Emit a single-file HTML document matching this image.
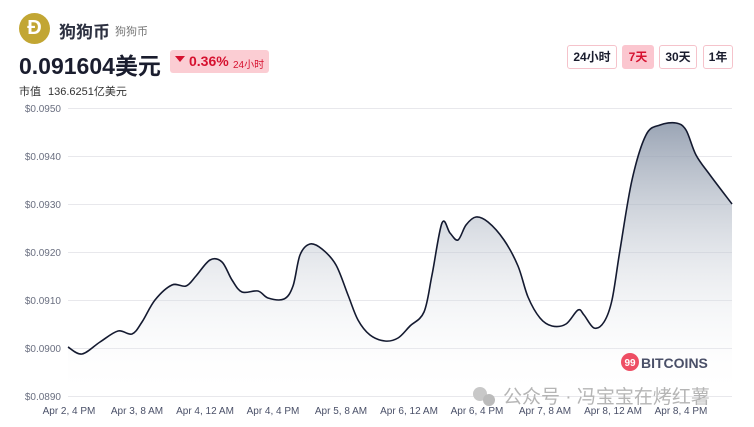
<!DOCTYPE html><html><head><meta charset="utf-8"><style>
body{margin:0;width:754px;height:427px;background:#fff;font-family:"Liberation Sans","Noto Sans CJK SC",sans-serif;color:#1a1d2e;position:relative;overflow:hidden}
.a{position:absolute;white-space:nowrap}
.btn{position:absolute;top:45px;height:22px;border:1px solid #f5c3cb;border-radius:3px;font-size:12px;font-weight:bold;line-height:22px;text-align:center;background:#fff}
</style></head><body>
<div class="a" style="left:19px;top:13px;width:31px;height:31px;border-radius:50%;background:#c2a633;color:#fff;font-weight:bold;font-size:20px;line-height:31px;text-align:center">Ð</div>
<div class="a" style="left:59px;top:18px;font-size:17px;font-weight:bold;color:#2c3040">狗狗币</div>
<div class="a" style="left:115px;top:23px;font-size:11px;color:#777">狗狗币</div>
<div class="a" style="left:19px;top:47px;font-size:23px;font-weight:bold;color:#1a1d2e">0.091604美元</div>
<div class="a" style="left:170px;top:50px;width:99px;height:23px;background:#fbcdd3;border-radius:3px"></div>
<div class="a" style="left:175px;top:56px;width:0;height:0;border-left:5px solid transparent;border-right:5px solid transparent;border-top:6px solid #d6112f"></div>
<div class="a" style="left:189px;top:53px;font-size:14px;font-weight:bold;color:#d6112f">0.36%</div>
<div class="a" style="left:233px;top:56px;font-size:10px;color:#d6112f">24小时</div>
<div class="a" style="left:19px;top:83px;font-size:11px;color:#333">市值</div>
<div class="a" style="left:48px;top:83px;font-size:11px;color:#333">136.6251亿美元</div>
<div class="btn" style="left:567px;width:48px">24小时</div>
<div class="btn" style="left:622px;width:30px;background:#fbc6cf;color:#d6112f;border-color:#fbc6cf">7天</div>
<div class="btn" style="left:659px;width:36px">30天</div>
<div class="btn" style="left:703px;width:28px">1年</div>
<svg class="a" style="left:0;top:0" width="754" height="427">
<defs><linearGradient id="g" x1="0" y1="0" x2="0" y2="1"><stop offset="0" stop-color="#8995a8" stop-opacity=".85"/><stop offset="1" stop-color="#fff" stop-opacity="0"/></linearGradient></defs>
<g stroke="#e8e8ec" stroke-width="1">
<line x1="68" x2="732" y1="108.5" y2="108.5"/><line x1="68" x2="732" y1="156.5" y2="156.5"/><line x1="68" x2="732" y1="204.5" y2="204.5"/><line x1="68" x2="732" y1="252.5" y2="252.5"/><line x1="68" x2="732" y1="300.5" y2="300.5"/><line x1="68" x2="732" y1="348.5" y2="348.5"/><line x1="68" x2="732" y1="396.5" y2="396.5"/></g>
<g font-size="10" fill="#6a6f80" text-anchor="end">
<text x="61" y="112">$0.0950</text><text x="61" y="160">$0.0940</text><text x="61" y="208">$0.0930</text><text x="61" y="256">$0.0920</text><text x="61" y="304">$0.0910</text><text x="61" y="352">$0.0900</text><text x="61" y="400">$0.0890</text></g>
<g font-size="10" fill="#4a5068" text-anchor="middle">
<text x="69" y="414">Apr 2, 4 PM</text><text x="137" y="414">Apr 3, 8 AM</text><text x="205" y="414">Apr 4, 12 AM</text><text x="273" y="414">Apr 4, 4 PM</text><text x="341" y="414">Apr 5, 8 AM</text><text x="409" y="414">Apr 6, 12 AM</text><text x="477" y="414">Apr 6, 4 PM</text><text x="545" y="414">Apr 7, 8 AM</text><text x="613" y="414">Apr 8, 12 AM</text><text x="681" y="414">Apr 8, 4 PM</text></g>
<path id="f" fill="url(#g)"/><path id="l" fill="none" stroke="#141a30" stroke-width="1.6"/>
<circle cx="630" cy="362" r="9" fill="#ee4e64"/><text x="630" y="366" font-size="10" font-weight="bold" fill="#fff" text-anchor="middle">99</text>
<text x="641" y="368" font-size="14" font-weight="bold" fill="#4a5068">BITCOINS</text>
<circle cx="480" cy="394" r="7" fill="#c8c8c8"/><circle cx="489" cy="400" r="6" fill="#bbb"/>
<text x="503" y="403" font-size="19" fill="#b5b5b5">公众号 · 冯宝宝在烤红薯</text>
</svg>
<script>
var p=[[68,347],[82,354],[100,342],[118,331],[132,334],[142,322],[155,300],[172,285],[186,286],[196,276],[210,260],[222,262],[232,280],[242,292],[258,291],[268,298],[284,299],[293,286],[300,255],[310,244],[322,249],[336,265],[348,295],[358,320],[370,335],[385,341],[398,338],[410,326],[424,312],[432,275],[442,223],[450,233],[458,240],[466,225],[476,217],[488,222],[504,240],[518,266],[528,297],[540,318],[552,326],[566,324],[578,310],[584,315],[594,328],[604,322],[612,300],[620,250],[632,180],[646,135],[660,125],[676,123],[686,130],[696,155],[710,175],[732,204]];
var d="M"+p[0];for(var i=0;i<p.length-1;i++){var a=p[i-1]||p[i],b=p[i],c=p[i+1],e=p[i+2]||c;d+=" C"+(b[0]+(c[0]-a[0])/6)+","+(b[1]+(c[1]-a[1])/6)+" "+(c[0]-(e[0]-b[0])/6)+","+(c[1]-(e[1]-b[1])/6)+" "+c;}
document.getElementById("l").setAttribute("d",d);document.getElementById("f").setAttribute("d",d+" L732,397 L68,397Z");
</script>
</body></html>
